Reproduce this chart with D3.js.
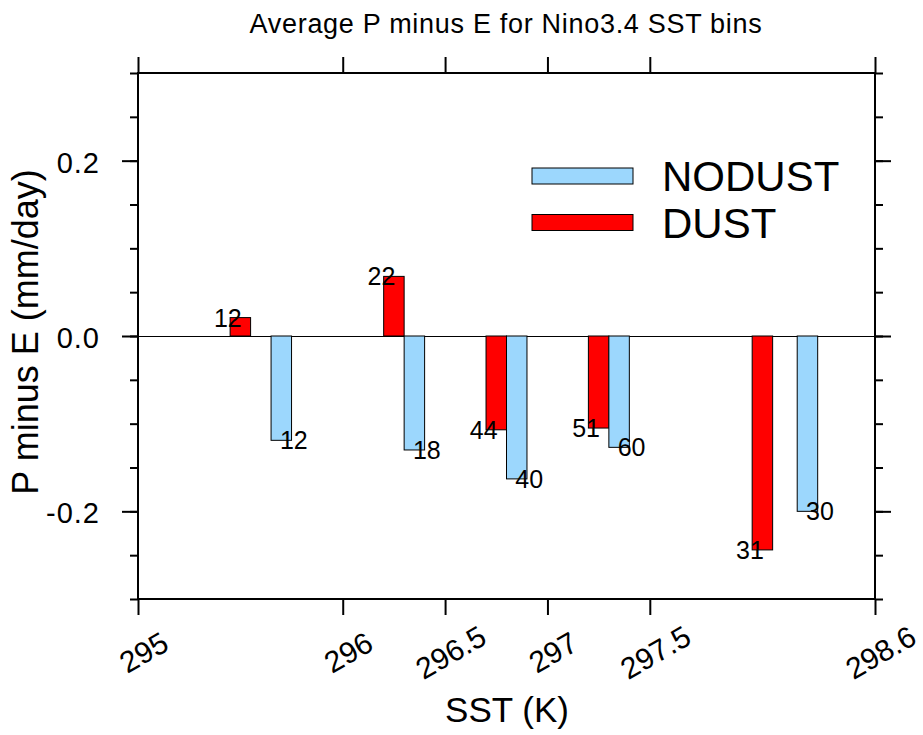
<html>
<head>
  <style>
    body{margin:0;background:#fff}
    .pe text{font-family:"Liberation Sans",Arial,Helvetica,sans-serif;fill:#000}
    .pe .tick line{stroke:#000;stroke-width:2px}
    .pe .domain{display:none}
  </style>
</head>
<body>
<div id="pe-bins"></div>
<script src="https://d3js.org/d3.v7.min.js"></script>
<script>

// bin-mean SST (K), mean P-E (mm/day) and sample count per bin
var dustX   = [295.50, 296.25, 296.75, 297.25, 298.05];
var dustY   = [0.021, 0.068, -0.107, -0.105, -0.244];
var dustN   = [12, 22, 44, 51, 31];

var nodustX = [295.70, 296.35, 296.85, 297.35, 298.27];
var nodustY = [-0.119, -0.130, -0.163, -0.127, -0.200];
var nodustN = [12, 18, 40, 60, 30];

var xTicks      = [295, 296, 296.5, 297, 297.5, 298.6];
var xTickLabels = ['295', '296', '296.5', '297', '297.5', '298.6'];
var yTicks      = [-0.2, 0, 0.2];
var yTickLabels = ['-0.2', '0.0', '0.2'];
var yMinor      = d3.range(-6, 7).map(function (k) { return k * 0.05; });

var seriesNames = ['NODUST', 'DUST'];
var seriesFill  = ['#9cd7fd', '#ff0000'];

(function () {

  var
    width   = 923,
    height  = 735,
    left    = 138,
    right   = 875,
    top     = 73,
    bottom  = 599,
    barW    = 0.1,
    xScale  = d3.scaleLinear().domain([295, 298.6]).range([left, right]),
    yScale  = d3.scaleLinear().domain([-0.3, 0.3]).range([bottom, top]),
    svg     = d3.select('#pe-bins').append('svg')
                .attr('class', 'pe')
                .attr('width', width)
                .attr('height', height);

  var series = [
    {name: 'DUST',   fill: seriesFill[1], x: dustX,   y: dustY,   n: dustN,   off: -12.5},
    {name: 'NODUST', fill: seriesFill[0], x: nodustX, y: nodustY, n: nodustN, off: 12.5}
  ];

  // title
  svg.append('text')
    .attr('x', 506)
    .attr('y', 33)
    .attr('text-anchor', 'middle')
    .style('font-size', '27px')
    .style('letter-spacing', '0.7px')
    .text('Average P minus E for Nino3.4 SST bins');

  // zero line
  svg.append('line')
    .attr('x1', left).attr('x2', right)
    .attr('y1', yScale(0) + 0.5).attr('y2', yScale(0) + 0.5)
    .style('stroke', '#000')
    .style('stroke-width', '1px');

  // bars
  series.forEach(function (s) {
    var g = svg.append('g');
    s.x.forEach(function (xv, i) {
      var y0 = yScale(0), y1 = yScale(s.y[i]);
      g.append('rect')
        .attr('x', xScale(xv - barW / 2))
        .attr('width', xScale(xv + barW / 2) - xScale(xv - barW / 2))
        .attr('y', Math.min(y0, y1))
        .attr('height', Math.abs(y1 - y0))
        .style('fill', s.fill)
        .style('stroke', '#000')
        .style('stroke-width', '1px');
      g.append('text')
        .attr('x', xScale(xv) + s.off)
        .attr('y', y1)
        .attr('dy', '0.36em')
        .attr('text-anchor', 'middle')
        .style('font-size', '25px')
        .text(s.n[i]);
    });
  });

  // y axes, minor + major, both sides
  svg.append('g')
    .attr('transform', 'translate(' + left + ',0)')
    .call(d3.axisLeft(yScale).tickValues(yMinor).tickSize(8).tickFormat(''));
  svg.append('g')
    .attr('transform', 'translate(' + right + ',0)')
    .call(d3.axisRight(yScale).tickValues(yMinor).tickSize(8).tickFormat(''));

  var yl = svg.append('g')
    .attr('transform', 'translate(' + left + ',0)')
    .call(d3.axisLeft(yScale).tickValues(yTicks).tickSize(16).tickPadding(22)
      .tickFormat(function (d, i) { return yTickLabels[i]; }));
  yl.attr('font-family', null).attr('font-size', null);
  yl.selectAll('text')
    .style('font-size', '29px')
    .style('letter-spacing', '1px')
    .attr('dy', '0.4em');

  svg.append('g')
    .attr('transform', 'translate(' + right + ',0)')
    .call(d3.axisRight(yScale).tickValues(yTicks).tickSize(16).tickFormat(''));

  // x axes
  var xb = svg.append('g')
    .attr('transform', 'translate(0,' + bottom + ')')
    .call(d3.axisBottom(xScale).tickValues(xTicks).tickSize(16)
      .tickFormat(function (d, i) { return xTickLabels[i]; }));
  xb.attr('font-family', null).attr('font-size', null);
  xb.selectAll('text')
    .attr('y', null)
    .attr('dy', '0.36em')
    .attr('text-anchor', 'middle')
    .attr('transform', 'translate(5,53) rotate(-30)')
    .style('font-size', '30px');

  svg.append('g')
    .attr('transform', 'translate(0,' + top + ')')
    .call(d3.axisTop(xScale).tickValues(xTicks).tickSize(16).tickFormat(''));

  // frame
  svg.append('rect')
    .attr('x', left).attr('y', top)
    .attr('width', right - left).attr('height', bottom - top)
    .style('fill', 'none')
    .style('stroke', '#000')
    .style('stroke-width', '2px');

  // axis titles
  svg.append('text')
    .attr('transform', 'translate(38,332) rotate(-90)')
    .attr('text-anchor', 'middle')
    .style('font-size', '36px')
    .text('P minus E (mm/day)');

  svg.append('text')
    .attr('x', 507)
    .attr('y', 722)
    .attr('text-anchor', 'middle')
    .style('font-size', '35px')
    .text('SST (K)');

  // legend
  var legY = [176, 222.5];
  seriesNames.forEach(function (name, i) {
    svg.append('rect')
      .attr('x', 532).attr('y', legY[i] - 8)
      .attr('width', 101).attr('height', 16)
      .style('fill', seriesFill[i])
      .style('stroke', '#000')
      .style('stroke-width', '1px');
    svg.append('text')
      .attr('x', 662)
      .attr('y', legY[i])
      .attr('dy', '0.36em')
      .style('font-size', '42px')
      .text(name);
  });

})();
</script>
</body>
</html>
